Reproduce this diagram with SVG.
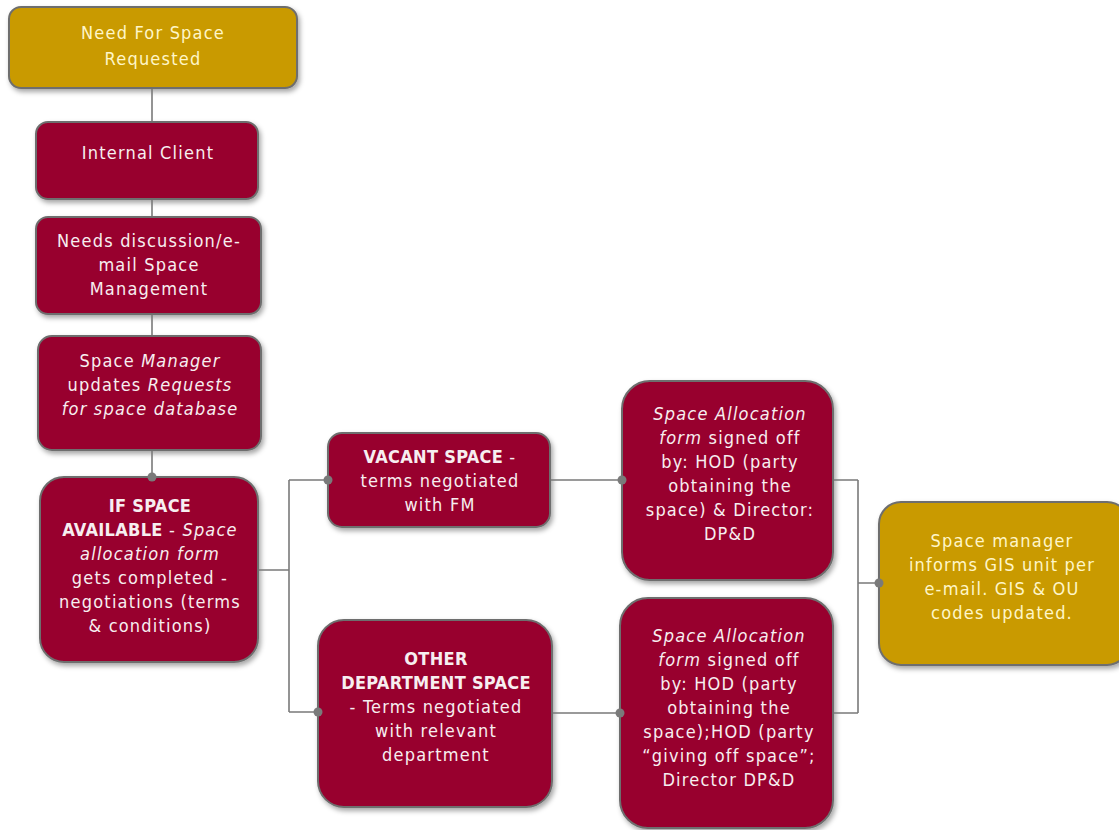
<svg xmlns="http://www.w3.org/2000/svg" width="1119" height="830" viewBox="0 0 1119 830">
<defs>
<filter id="sh" x="-10%" y="-10%" width="130%" height="130%">
<feDropShadow dx="2" dy="3" stdDeviation="2.5" flood-color="#000" flood-opacity="0.35"/>
</filter>
</defs>
<style>
.m{fill:#98002e;stroke:#6e6e6e;stroke-width:2;filter:url(#sh)}
.g{fill:#c99a00;stroke:#6e6e6e;stroke-width:2;filter:url(#sh)}
text{font-family:"DejaVu Sans Condensed","DejaVu Sans",sans-serif;font-size:18px;letter-spacing:1.2px;text-anchor:middle;fill:#f7eef0}
.g2 text{fill:#fff6c8}
.b{font-weight:bold;letter-spacing:0.3px}
.i{font-style:italic}
.c{stroke:#7a7a7a;stroke-width:1.6;fill:none}
.d{fill:#7a7a7a}
</style>
<g id="n1" class="g2">
<rect class="g" x="9" y="7" width="288" height="81" rx="12"/>
<text x="153" y="39">Need For Space</text>
<text x="153" y="65">Requested</text>
</g>
<g id="n2">
<rect class="m" x="36" y="122" width="222" height="77" rx="12"/>
<text x="148" y="159">Internal Client</text>
</g>
<g id="n3">
<rect class="m" x="36" y="217" width="225" height="97" rx="12"/>
<text x="149" y="247">Needs discussion/e-</text>
<text x="149" y="271">mail Space</text>
<text x="149" y="295">Management</text>
</g>
<g id="n4">
<rect class="m" x="38" y="336" width="223" height="114" rx="14"/>
<text x="150" y="367">Space <tspan class="i">Manager</tspan></text>
<text x="150" y="391">updates <tspan class="i">Requests</tspan></text>
<text x="150" y="415" class="i">for space database</text>
</g>
<g id="n5">
<rect class="m" x="40" y="477" width="218" height="185" rx="24"/>
<text x="150" y="512" class="b">IF SPACE</text>
<text x="150" y="536"><tspan class="b">AVAILABLE</tspan> - <tspan class="i">Space</tspan></text>
<text x="150" y="560" class="i">allocation form</text>
<text x="150" y="584">gets completed -</text>
<text x="150" y="608">negotiations (terms</text>
<text x="150" y="632">&amp; conditions)</text>
</g>
<g id="n6">
<rect class="m" x="328" y="433" width="222" height="94" rx="14"/>
<text x="440" y="463"><tspan class="b">VACANT SPACE</tspan> -</text>
<text x="440" y="487">terms negotiated</text>
<text x="440" y="511">with FM</text>
</g>
<g id="n7">
<rect class="m" x="318" y="620" width="234" height="187" rx="26"/>
<text x="436" y="665" class="b">OTHER</text>
<text x="436" y="689" class="b">DEPARTMENT SPACE</text>
<text x="436" y="713">- Terms negotiated</text>
<text x="436" y="737">with relevant</text>
<text x="436" y="761">department</text>
</g>
<g id="n8">
<rect class="m" x="622" y="381" width="211" height="199" rx="28"/>
<text x="730" y="420" class="i">Space Allocation</text>
<text x="730" y="444"><tspan class="i">form</tspan> signed off</text>
<text x="730" y="468">by: HOD (party</text>
<text x="730" y="492">obtaining the</text>
<text x="730" y="516">space) &amp; Director:</text>
<text x="730" y="540">DP&amp;D</text>
</g>
<g id="n9">
<rect class="m" x="620" y="598" width="213" height="230" rx="28"/>
<text x="729" y="642" class="i">Space Allocation</text>
<text x="729" y="666"><tspan class="i">form</tspan> signed off</text>
<text x="729" y="690">by: HOD (party</text>
<text x="729" y="714">obtaining the</text>
<text x="729" y="738">space);HOD (party</text>
<text x="729" y="762">“giving off space”;</text>
<text x="729" y="786">Director DP&amp;D</text>
</g>
<g id="n10" class="g2">
<rect class="g" x="879" y="502" width="250" height="163" rx="22"/>
<text x="1002" y="547">Space manager</text>
<text x="1002" y="571">informs GIS unit per</text>
<text x="1002" y="595">e-mail. GIS &amp; OU</text>
<text x="1002" y="619">codes updated.</text>
</g>
<g id="connectors">
<path class="c" d="M152 89V121M152 200V216M152 315V335M152 451V477"/>
<path class="c" d="M259 570H289M289 480V712M289 480H328M289 712H318"/>
<path class="c" d="M551 480H622M553 713H620"/>
<path class="c" d="M834 480H858M834 713H858M858 480V713M858 583H879"/>
<circle class="d" cx="152" cy="477" r="4.5"/>
<circle class="d" cx="328" cy="480" r="4.5"/>
<circle class="d" cx="318" cy="712" r="4.5"/>
<circle class="d" cx="622" cy="480" r="4.5"/>
<circle class="d" cx="620" cy="713" r="4.5"/>
<circle class="d" cx="879" cy="583" r="4.5"/>
</g>
</svg>
